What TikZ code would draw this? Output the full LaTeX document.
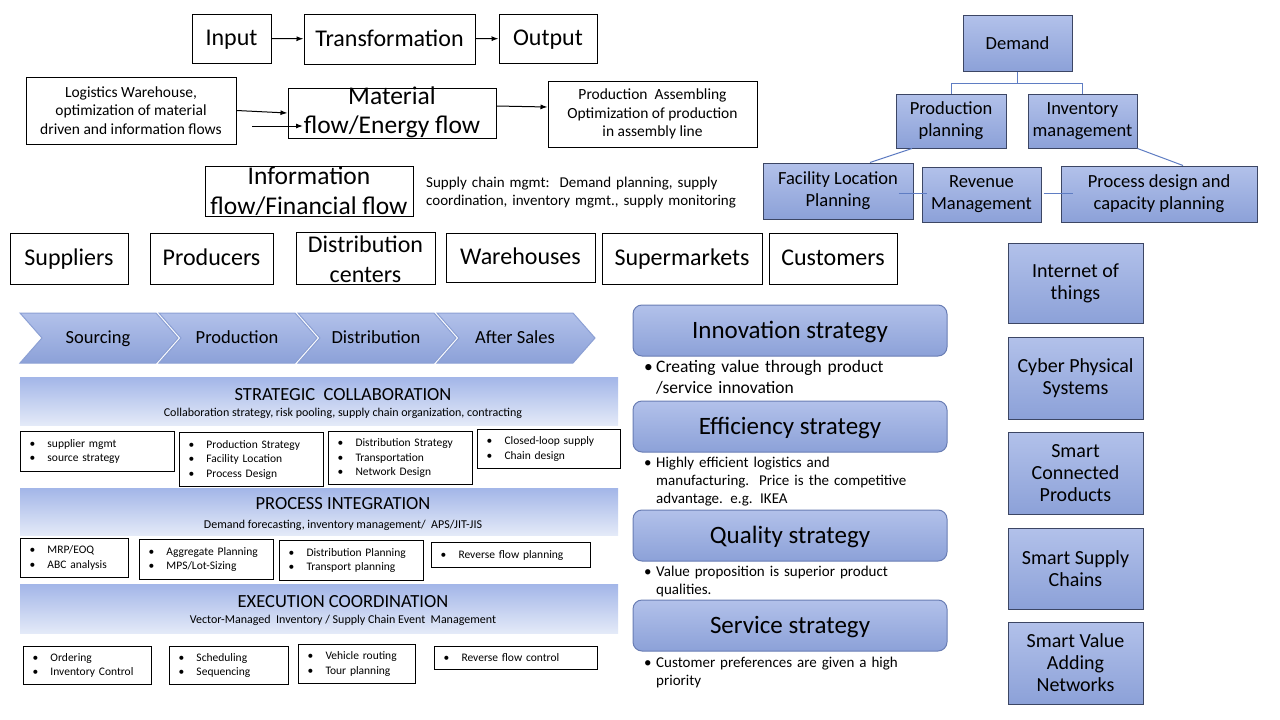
\documentclass[tikz,border=0pt]{standalone}
\usepackage{fontspec}
\setmainfont{Carlito}
\usepackage{tikz}
\usetikzlibrary{arrows.meta}
\newcommand{\fsz}[2]{\fontsize{#1}{#2}\selectfont}
\newcommand{\itm}[1]{\makebox[18pt][l]{\textbullet}#1}
\newcommand{\blt}{\makebox[12pt][l]{\textbullet}}
\definecolor{tileTop}{RGB}{178,193,234}
\definecolor{tileBot}{RGB}{140,161,216}
\definecolor{tileLine}{RGB}{60,70,100}
\definecolor{treeLine}{RGB}{95,125,195}
\definecolor{chevLine}{RGB}{140,160,212}
\definecolor{bandTop}{RGB}{163,182,232}
\definecolor{bandBot}{RGB}{228,234,248}
\definecolor{stratLine}{RGB}{105,125,180}

\begin{document}
\begin{tikzpicture}[x=1pt, y=-1pt,
    plainbox/.style={draw=black, line width=1pt, inner sep=0pt, align=center},
    bigword/.style={font={\fsz{24}{29}}, text height=19pt, text depth=5pt},
    tile/.style={draw=tileLine, line width=1pt, top color=tileTop, bottom color=tileBot, inner sep=0pt, align=center},
    listbox/.style={draw=black, line width=1pt, anchor=north west, inner xsep=9pt, inner ysep=0pt, align=left, font={\fsz{11.5}{14.5}}},
    band/.style={anchor=north west, inner sep=0pt, top color=bandTop, bottom color=bandBot, minimum width=598pt},
    stratbox/.style={draw=stratLine, line width=1pt, rounded corners=9pt, top color=tileTop, bottom color=tileBot, minimum width=314pt, minimum height=51pt, inner sep=0pt, font={\fsz{25}{30}}, text height=20pt, text depth=5pt},
    note/.style={anchor=base west, inner sep=0pt, align=left, text width=300pt},
    chev/.style={draw=chevLine, line width=1pt, top color=tileTop, bottom color=tileBot},
    arr/.style={-{Latex[length=7pt,width=5pt]}, line width=1pt},
    treeconn/.style={draw=treeLine, line width=1pt}
]
    \fill[white] (0,0) rectangle (1280,720);
    \useasboundingbox (0,0) rectangle (1280,720);

    \node[plainbox, bigword, minimum width=79pt, minimum height=49pt] (input) at (231.5,38.5) {Input};
    \node[plainbox, bigword, minimum width=171pt, minimum height=50pt] (trans) at (389.5,39) {Transformation};
    \node[plainbox, bigword, minimum width=98pt, minimum height=49pt] (output) at (548,38.5) {Output};

    \node[plainbox, minimum width=210pt, minimum height=67pt, font={\fsz{15.5}{18.5}}] (logist) at (131,110.5) {Logistics Warehouse,\\optimization of material\\driven and information flows};
    \node[plainbox, minimum width=208pt, minimum height=50pt] (matflow) at (392,113) {};
    \node[align=center, inner sep=0pt, font={\fsz{25.5}{29}}] (matflowtxt) at (392,112) {Material\\flow/Energy flow};
    \node[plainbox, minimum width=209pt, minimum height=66pt, font={\fsz{15.5}{18.5}}] (prodasm) at (652.5,114) {Production\ \ Assembling\\Optimization of production\\in assembly line};

    \node[plainbox, minimum width=208pt, minimum height=50pt] (info) at (309,191) {};
    \node[align=center, inner sep=0pt, font={\fsz{25.5}{30}}] (infotxt) at (309,191) {Information\\flow/Financial flow};
    \node[note, text width=340pt, font={\fsz{15}{18}}] (scm) at (426,187) {Supply chain mgmt:\ \ Demand planning, supply\\coordination, inventory mgmt., supply monitoring};

    \draw[arr] (input) -- (trans);
    \draw[arr] (trans) -- (output);
    \coordinate (lgtail) at (252,126);
    \coordinate (mfhead) at (303,126);
    \draw[arr] (logist.east) -- (matflow.west);
    \draw[arr] (lgtail) -- (mfhead);
    \draw[arr] ([yshift=7pt]matflow.east) -- ([yshift=7pt]prodasm.west);

    \node[tile, minimum width=109pt, minimum height=56pt, font={\fsz{18.5}{21.7}}] (demand) at (1017.5,43.5) {Demand};
    \node[tile, minimum width=110pt, minimum height=54pt, font={\fsz{18.5}{21.7}}] (prodplan) at (951,121) {Production\\planning};
    \node[tile, minimum width=109pt, minimum height=54pt, font={\fsz{18.5}{21.7}}] (invmgmt) at (1082.5,121) {Inventory\\management};
    \node[tile, minimum width=150pt, minimum height=56pt, font={\fsz{18.5}{21.7}}] (facloc) at (838,191) {Facility Location\\Planning};
    \node[tile, minimum width=119pt, minimum height=55pt, font={\fsz{18.5}{21.7}}] (revmgmt) at (981.5,194.5) {Revenue\\Management};
    \node[tile, minimum width=196pt, minimum height=56pt, font={\fsz{18.5}{21.7}}] (procdes) at (1159,194) {Process design and\\capacity planning};

    \draw[treeconn] (demand.south) -- ++(0,11) -| (prodplan.north);
    \draw[treeconn] (demand.south) -- ++(0,11) -| (invmgmt.north);
    \draw[treeconn] ([xshift=-39pt]prodplan.south) -- ([xshift=32pt]facloc.north);
    \draw[treeconn] (invmgmt.south east) -- ([xshift=24pt]procdes.north);
    \draw[treeconn] ([xshift=-15pt,yshift=-2pt]facloc.east) -- ([xshift=5pt,yshift=1.5pt]revmgmt.west);
    \draw[treeconn] ([xshift=2pt,yshift=1.5pt]revmgmt.east) -- ([xshift=12pt,yshift=1pt]procdes.west);

    \node[plainbox, bigword, minimum width=118pt, minimum height=51pt] (suppl) at (69,258.5) {Suppliers};
    \node[plainbox, bigword, minimum width=123pt, minimum height=51pt] (produc) at (211.5,258.5) {Producers};
    \node[plainbox, minimum width=139pt, minimum height=52pt] (distc) at (365.5,258) {};
    \node[align=center, inner sep=0pt, font={\fsz{24}{30}}] (distctxt) at (365.5,259) {Distribution\\centers};
    \node[plainbox, bigword, minimum width=149pt, minimum height=49pt] (wareh) at (520.5,257.5) {Warehouses};
    \node[plainbox, bigword, minimum width=160pt, minimum height=51pt] (superm) at (682,258.5) {Supermarkets};
    \node[plainbox, bigword, minimum width=128pt, minimum height=51pt] (custom) at (833,258.5) {Customers};

    \foreach \x/\lbl/\nm in {20/Sourcing/src, 159/Production/prd, 298/Distribution/dst, 437/After Sales/aft}{
        \draw[chev] (\x,313) -- ++(136,0) -- ++(22,25) -- ++(-22,25) -- ++(-136,0) -- ++(22,-25) -- cycle;
        \node[anchor=base, font={\fsz{18.5}{22}}] (chev-\nm) at (\x+78,343.5) {\lbl};
    }

    \node[band, minimum height=48pt] (stratband) at (20,377) {};
    \node[font={\fsz{18.5}{22}}] (strattitle) at (343,395) {STRATEGIC\ \ COLLABORATION};
    \node[font={\fsz{12}{14}}] (stratsub) at (343,413) {Collaboration strategy, risk pooling, supply chain organization, contracting};
    \node[listbox, text width=136pt, minimum height=40pt] (supmgmt) at (20,431) {\itm{supplier mgmt}\\\itm{source strategy}};
    \node[listbox, text width=126pt, minimum height=54pt] (prodstr) at (179,432) {\itm{Production Strategy}\\\itm{Facility Location}\\\itm{Process Design}};
    \node[listbox, text width=126pt, minimum height=53pt] (diststr) at (328,431) {\itm{Distribution Strategy}\\\itm{Transportation}\\\itm{Network Design}};
    \node[listbox, text width=125pt, minimum height=39pt] (closedl) at (477,429) {\itm{Closed-loop supply}\\\itm{Chain design}};

    \node[band, minimum height=47pt] (procband) at (20,488) {};
    \node[font={\fsz{18.5}{22}}] (proctitle) at (343,504) {PROCESS INTEGRATION};
    \node[font={\fsz{12}{14}}] (procsub) at (343,525) {Demand forecasting, inventory management/\ \ APS/JIT-JIS};
    \node[listbox, text width=90pt, minimum height=39pt] (mrp) at (20,538) {\itm{MRP/EOQ}\\\itm{ABC analysis}};
    \node[listbox, text width=116pt, minimum height=40pt] (aggr) at (139,539) {\itm{Aggregate Planning}\\\itm{MPS/Lot-Sizing}};
    \node[listbox, text width=126pt, minimum height=40pt] (distplan) at (279,540) {\itm{Distribution Planning}\\\itm{Transport planning}};
    \node[listbox, text width=141pt, minimum height=25pt] (revplan) at (431,542) {\itm{Reverse flow planning}};

    \node[band, minimum height=49pt] (execband) at (20,584) {};
    \node[font={\fsz{18.5}{22}}] (exectitle) at (343,601.5) {EXECUTION COORDINATION};
    \node[font={\fsz{12}{14}}] (execsub) at (343,620) {Vector-Managed\ \ Inventory / Supply Chain Event\ \ Management};
    \node[listbox, text width=110pt, minimum height=38pt] (order) at (23,646) {\itm{Ordering}\\\itm{Inventory Control}};
    \node[listbox, text width=101pt, minimum height=38pt] (sched) at (169,646) {\itm{Scheduling}\\\itm{Sequencing}};
    \node[listbox, text width=99pt, minimum height=39pt] (vehic) at (298,644) {\itm{Vehicle routing}\\\itm{Tour planning}};
    \node[listbox, text width=145pt, minimum height=23pt] (revctrl) at (434,646) {\itm{Reverse flow control}};

    \node[stratbox] (innov) at (790,330.5) {Innovation strategy};
    \node[note, font={\fsz{17.5}{21}}] (innovnote) at (644,372) {\blt Creating value through product\\\hspace*{12pt}/service innovation};
    \node[stratbox] (effic) at (790,426.5) {Efficiency strategy};
    \node[note, font={\fsz{15}{18}}] (efficnote) at (644,467) {\blt Highly efficient logistics and\\\hspace*{12pt}manufacturing.\ \ Price is the competitive\\\hspace*{12pt}advantage. e.g. IKEA};
    \node[stratbox] (qual) at (790,535.5) {Quality strategy};
    \node[note, font={\fsz{15}{18.5}}] (qualnote) at (644,576) {\blt Value proposition is superior product\\\hspace*{12pt}qualities.};
    \node[stratbox] (serv) at (790,625.5) {Service strategy};
    \node[note, font={\fsz{15}{18}}] (servnote) at (644,667) {\blt Customer preferences are given a high\\\hspace*{12pt}priority};

    \node[tile, minimum width=135pt, minimum height=80pt, font={\fsz{20}{22}}] (iot) at (1075.5,283) {Internet of\\things};
    \node[tile, minimum width=135pt, minimum height=82pt, font={\fsz{20}{22}}] (cps) at (1075.5,378) {Cyber Physical\\Systems};
    \node[tile, minimum width=135pt, minimum height=82pt, font={\fsz{20}{22}}] (scp) at (1075.5,473) {Smart\\Connected\\Products};
    \node[tile, minimum width=135pt, minimum height=81pt, font={\fsz{20}{22}}] (ssc) at (1075.5,568.5) {Smart Supply\\Chains};
    \node[tile, minimum width=135pt, minimum height=82pt, font={\fsz{20}{22}}] (svn) at (1075.5,663) {Smart Value\\Adding\\Networks};
\end{tikzpicture}
\end{document}
